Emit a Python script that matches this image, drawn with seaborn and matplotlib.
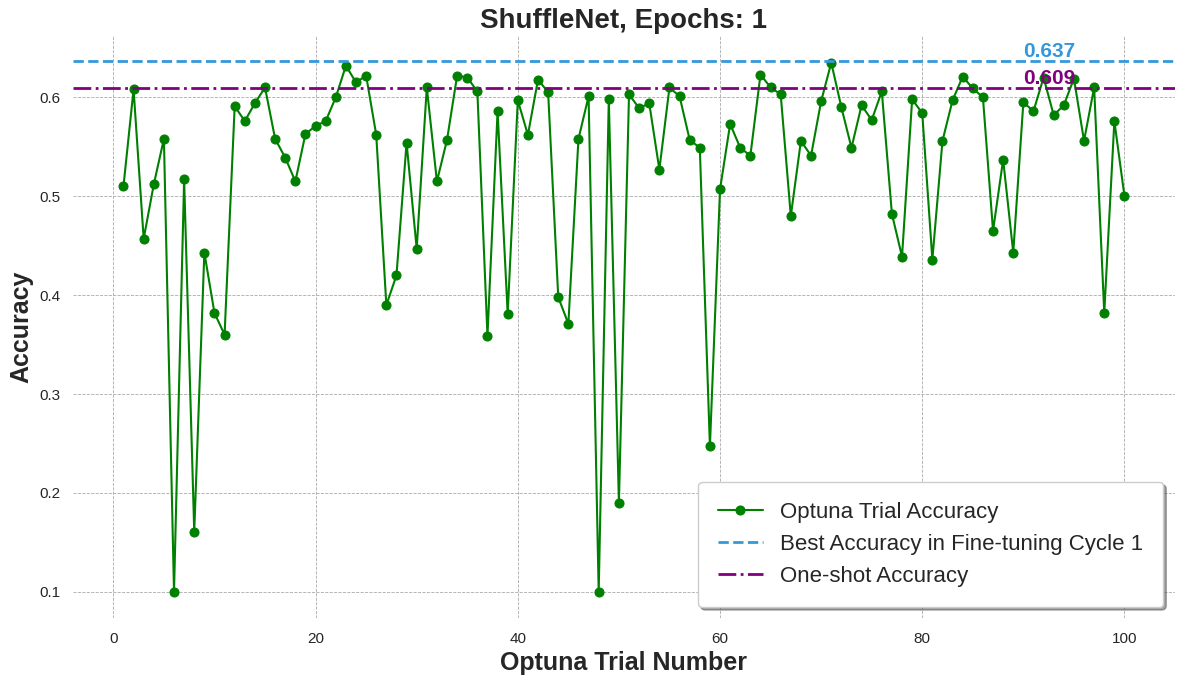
import numpy as np
import pandas as pd
import matplotlib
matplotlib.use("Agg")
import matplotlib.pyplot as plt
import seaborn as sns

# ---------------------------------------------
# Data
# ---------------------------------------------
trials = list(range(1, 101))
accuracy = [
    0.510, 0.608, 0.457, 0.512, 0.558, 0.100, 0.517, 0.161, 0.443, 0.382,
    0.360, 0.591, 0.576, 0.594, 0.610, 0.558, 0.539, 0.515, 0.563, 0.571,
    0.576, 0.600, 0.632, 0.615, 0.622, 0.562, 0.390, 0.420, 0.554, 0.447,
    0.610, 0.515, 0.557, 0.622, 0.620, 0.606, 0.359, 0.586, 0.381, 0.597,
    0.562, 0.618, 0.605, 0.398, 0.371, 0.558, 0.601, 0.100, 0.598, 0.190,
    0.603, 0.589, 0.594, 0.527, 0.610, 0.601, 0.557, 0.549, 0.247, 0.507,
    0.573, 0.549, 0.541, 0.623, 0.610, 0.603, 0.480, 0.556, 0.541, 0.596,
    0.635, 0.590, 0.549, 0.592, 0.577, 0.606, 0.482, 0.439, 0.598, 0.584,
    0.436, 0.556, 0.597, 0.621, 0.609, 0.600, 0.465, 0.537, 0.443, 0.595,
    0.586, 0.620, 0.582, 0.592, 0.619, 0.556, 0.610, 0.382, 0.576, 0.500,
]
best_acc = 0.637
oneshot_acc = 0.609

df = pd.DataFrame({"trial": trials, "accuracy": accuracy})

# ---------------------------------------------
# Plot
# ---------------------------------------------
sns.set_theme(style="whitegrid")
plt.rcParams["font.family"] = ["Liberation Sans", "DejaVu Sans"]
fig, ax = plt.subplots(figsize=(11.84, 6.84), dpi=100)

sns.lineplot(data=df, x="trial", y="accuracy", marker="o", color="green",
             markersize=6.5, markeredgecolor="green", linewidth=1.5,
             label="Optuna Trial Accuracy", ax=ax)
ax.axhline(best_acc, color="#3498db", linestyle="--", linewidth=2,
           label="Best Accuracy in Fine-tuning Cycle 1")
ax.axhline(oneshot_acc, color="purple", linestyle="-.", linewidth=2,
           label="One-shot Accuracy")

ax.text(90, best_acc, f"{best_acc:.3f}", color="#3498db", fontsize=15,
        fontweight="bold", va="bottom", ha="left")
ax.text(90, oneshot_acc, f"{oneshot_acc:.3f}", color="purple", fontsize=15,
        fontweight="bold", va="bottom", ha="left")

ax.grid(True, linestyle="--", linewidth=0.6, color="#aaaaaa")
sns.despine(ax=ax, left=True, bottom=True)

ax.set_title("ShuffleNet, Epochs: 1", fontsize=20, fontweight="bold")
ax.set_xlabel("Optuna Trial Number", fontsize=18, fontweight="bold")
ax.set_ylabel("Accuracy", fontsize=18, fontweight="bold")
ax.tick_params(labelsize=11)

ax.legend(loc="lower right", fontsize=16, frameon=True, shadow=True,
          fancybox=True, borderpad=0.9, edgecolor="#cccccc", framealpha=1)

fig.subplots_adjust(left=0.062, right=0.992, top=0.947, bottom=0.096)
plt.savefig("out.png", dpi=100)
